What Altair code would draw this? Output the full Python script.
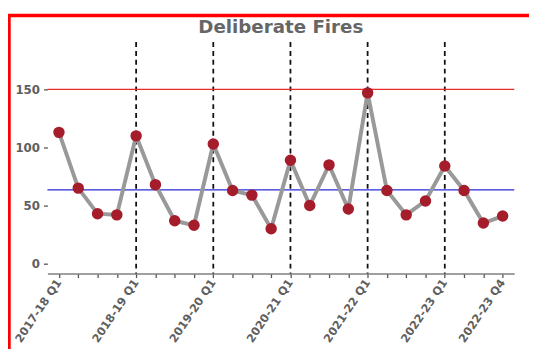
import altair as alt
import pandas as pd

years = ["2017-18", "2018-19", "2019-20", "2020-21", "2021-22", "2022-23"]
quarters = ["Q1", "Q2", "Q3", "Q4"]
labels = [f"{y} {q}" for y in years for q in quarters]
values = [113, 65, 43, 42, 110, 68, 37, 33,
          103, 63, 59, 30, 89, 50, 85, 47,
          147, 63, 42, 54, 84, 63, 35, 41]
upper_limit = [150]
mean_line = [63.5]
year_starts = ["2018-19 Q1", "2019-20 Q1", "2020-21 Q1", "2021-22 Q1", "2022-23 Q1"]
shown_labels = ["2017-18 Q1", "2018-19 Q1", "2019-20 Q1", "2020-21 Q1",
                "2021-22 Q1", "2022-23 Q1", "2022-23 Q4"]
chart_title = ["Deliberate Fires"]

df = pd.DataFrame({"quarter": labels, "fires": values})

lab_expr = "indexof(" + str(shown_labels).replace('"', "'") + ", datum.value) >= 0 ? datum.value : ''"
FONT = "DejaVu Sans"

x_enc = alt.X(
    "quarter:O", sort=labels,
    scale=alt.Scale(type="point", padding=0.6),
    axis=alt.Axis(title=None, labelAngle=-56, labelAlign="right", labelBaseline="middle",
                  labelExpr=lab_expr, labelFont=FONT, labelFontSize=11.5,
                  labelFontWeight="bold", labelColor="#5f5f5f", labelPadding=3,
                  domainColor="#808080", domainWidth=1.5, tickColor="#555555",
                  tickSize=4, tickWidth=1.3, labelOverlap=False, grid=False),
)
y_scale = alt.Scale(domain=[-8.5, 190.7], nice=False, zero=False)
y_enc = alt.Y("fires:Q", scale=y_scale,
              axis=alt.Axis(title=None, values=[0, 50, 100, 150], domain=False, grid=False,
                            labelFont=FONT, labelFontSize=12, labelFontWeight="bold",
                            labelColor="#5f5f5f", tickColor="#555555", tickSize=4,
                            tickWidth=1.3, labelPadding=4))

border = alt.Chart(pd.DataFrame({"a": [0]})).mark_rect(
    fill=None, stroke="#ff0000", strokeWidth=3.5, clip=False
).encode(x=alt.value(-39), x2=alt.value(600), y=alt.value(-27), y2=alt.value(400))

title_txt = alt.Chart(pd.DataFrame({"t": chart_title})).mark_text(
    font=FONT, fontSize=18.5, fontWeight="bold", color="#666666",
    align="center", baseline="alphabetic"
).encode(text="t:N", x=alt.value(237), y=alt.value(-9))

rules_v = alt.Chart(pd.DataFrame({"quarter": year_starts})).mark_rule(
    color="#111111", strokeDash=[5, 4], strokeWidth=1.8
).encode(x=alt.X("quarter:O", sort=labels))

upper = alt.Chart(pd.DataFrame({"v": upper_limit})).mark_rule(
    color="#ee2b2b", strokeWidth=1.5
).encode(y=alt.Y("v:Q", scale=y_scale))

mean = alt.Chart(pd.DataFrame({"v": mean_line})).mark_rule(
    color="#2a2ad8", strokeWidth=1.5
).encode(y=alt.Y("v:Q", scale=y_scale))

line = alt.Chart(df).mark_line(color="#999999", strokeWidth=4).encode(x=x_enc, y=y_enc)
pts = alt.Chart(df).mark_point(filled=True, color="#a51c2a", size=135, opacity=1).encode(
    x=alt.X("quarter:O", sort=labels), y=alt.Y("fires:Q", scale=y_scale))

chart = alt.layer(rules_v, upper, mean, line, pts, title_txt, border).properties(
    width=474, height=235,
    autosize=alt.AutoSizeParams(type="none"),
    padding={"left": 40, "top": 32, "right": 15, "bottom": 74},
).configure(background="white", view=alt.ViewConfig(stroke=None))

chart.save("out.html", embed_options={"renderer": "svg", "actions": False})
